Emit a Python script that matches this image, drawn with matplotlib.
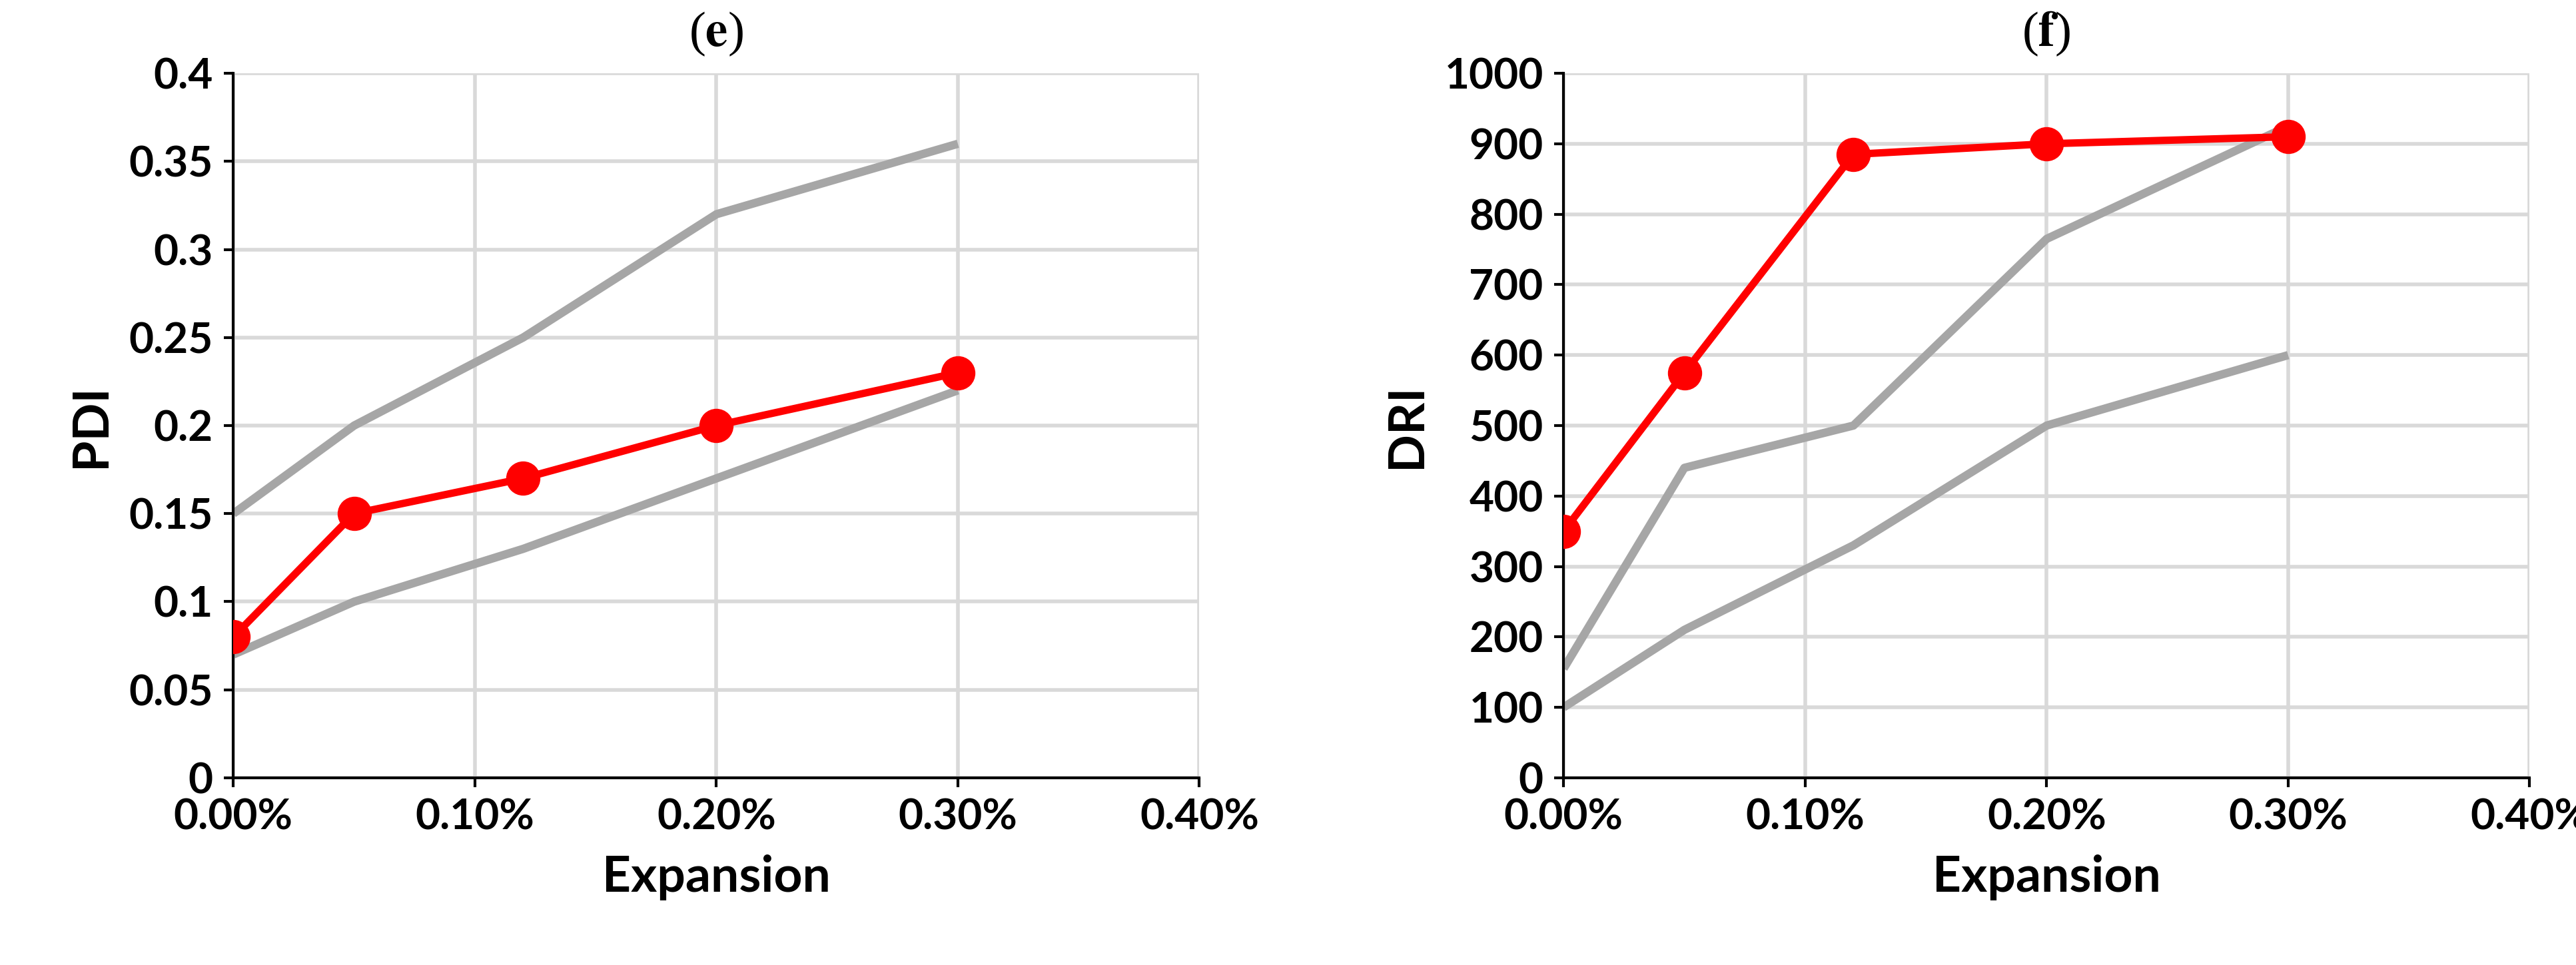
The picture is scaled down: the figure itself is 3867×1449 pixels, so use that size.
import matplotlib.pyplot as plt
from matplotlib.ticker import FuncFormatter

expansion = [0.0, 0.05, 0.12, 0.20, 0.30]

pdi_red = [0.08, 0.15, 0.17, 0.20, 0.23]
pdi_upper = [0.15, 0.20, 0.25, 0.32, 0.36]
pdi_lower = [0.07, 0.10, 0.13, 0.17, 0.22]

dri_red = [350, 575, 885, 900, 910]
dri_upper = [155, 440, 500, 765, 925]
dri_lower = [100, 210, 330, 500, 600]

plt.rcParams['font.family'] = ['Lato', 'DejaVu Sans']
plt.rcParams['font.weight'] = 'bold'
plt.rcParams['mathtext.fontset'] = 'stix'

fig = plt.figure(figsize=(38.67, 14.49), dpi=100)

panels = [
    (0.0906, 'e', 'PDI', pdi_red, pdi_upper, pdi_lower, (0, 0.4), 0.05, lambda v, p: f"{v:g}"),
    (0.607, 'f', 'DRI', dri_red, dri_upper, dri_lower, (0, 1000), 100, lambda v, p: f"{v:.0f}"),
]

for left, letter, ylabel, red, up, low, ylim, step, fmt in panels:
    ax = fig.add_axes([left, 0.194, 0.375, 0.730])
    ax.plot(expansion, up, color='#a6a6a6', lw=9, solid_capstyle='butt', zorder=2)
    ax.plot(expansion, low, color='#a6a6a6', lw=9, solid_capstyle='butt', zorder=2)
    ax.plot(expansion, red, color='red', lw=8, marker='o', markersize=36, zorder=3)
    ax.set_xlim(0, 0.4)
    ax.set_ylim(*ylim)
    ax.set_xticks([0, 0.1, 0.2, 0.3, 0.4])
    ax.xaxis.set_major_formatter(FuncFormatter(lambda v, p: f"{v:.2f}%"))
    n = int(round((ylim[1] - ylim[0]) / step))
    ax.set_yticks([ylim[0] + i * step for i in range(n + 1)])
    ax.yaxis.set_major_formatter(FuncFormatter(fmt))
    ax.grid(True, color='#d9d9d9', lw=4)
    ax.set_axisbelow(True)
    for s in ['top', 'right']:
        ax.spines[s].set_visible(False)
    for s in ['left', 'bottom']:
        ax.spines[s].set_color('black')
        ax.spines[s].set_linewidth(3)
    ax.tick_params(labelsize=46, length=10, width=3, pad=12)
    for lab in ax.get_xticklabels() + ax.get_yticklabels():
        lab.set_fontweight('bold')
    ax.set_xlabel('Expansion', fontsize=54, fontweight='bold', labelpad=20)
    ax.set_ylabel(ylabel, fontsize=54, fontweight='bold', labelpad=16)
    fig.text(left + 0.1875, 0.965, r'($\mathbf{' + letter + r'}$)', ha='center', va='center',
             fontsize=54, family='Liberation Serif', fontweight='normal')

fig.savefig('out.png', dpi=100)
